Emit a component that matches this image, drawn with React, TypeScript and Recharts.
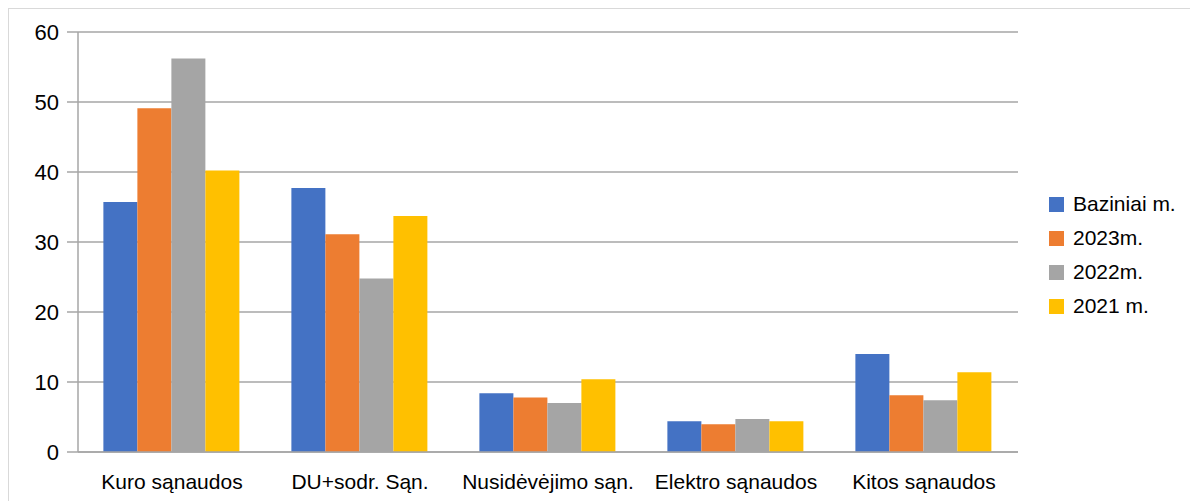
import { BarChart, Bar, XAxis, YAxis, CartesianGrid, Legend } from 'recharts';

const FONT = '"Liberation Sans", Arial, sans-serif';

const categories = ['Kuro sąnaudos', 'DU+sodr. Sąn.', 'Nusidėvėjimo sąn.', 'Elektro sąnaudos', 'Kitos sąnaudos'];
const seriesNames = ['Baziniai m.', '2023m.', '2022m.', '2021 m.'];
const baziniai = [35.7, 37.7, 8.4, 4.4, 14.0];
const m2023 = [49.1, 31.1, 7.8, 3.95, 8.1];
const m2022 = [56.2, 24.8, 7.0, 4.7, 7.4];
const m2021 = [40.2, 33.7, 10.4, 4.4, 11.4];
const yTicks = [0, 10, 20, 30, 40, 50, 60];
const edgeTicks = [0, 1, 2, 3, 4, 5];

const data = categories.map((name, i) => ({
  name,
  baziniai: baziniai[i],
  m2023: m2023[i],
  m2022: m2022[i],
  m2021: m2021[i],
}));

const GRID = '#a6a6a6';

const renderLegend = (props: any) => {
  const payload = [...(props.payload || [])].sort(
    (a: any, b: any) => seriesNames.indexOf(a.value) - seriesNames.indexOf(b.value)
  );
  return (
    <ul style={{ listStyle: 'none', margin: 0, padding: '0 0 0 31px' }}>
      {payload.map((entry: any) => (
        <li key={entry.value}
          style={{ display: 'flex', alignItems: 'center', height: 34, fontSize: 21, fontFamily: FONT, color: '#000', whiteSpace: 'nowrap' }}>
          <span style={{ display: 'inline-block', flexShrink: 0, width: 15, height: 15, background: entry.color, marginRight: 9 }} />
          {entry.value}
        </li>
      ))}
    </ul>
  );
};

function App() {
  return (
    <div style={{ width: 1189, height: 492, border: '1px solid #d9d9d9', background: '#fff' }}>
      <BarChart width={1189} height={492} data={data}
        margin={{ top: 23, right: 30, left: 0, bottom: 0 }}
        barCategoryGap="13.5%" barGap={0}>
        <CartesianGrid vertical={false} stroke={GRID} strokeWidth={1.5} xAxisId="b" />
        <XAxis xAxisId="a" type="number" domain={[0, 5]} ticks={edgeTicks} allowDataOverflow
          height={1} tick={false} tickSize={11}
          axisLine={{ stroke: GRID, strokeWidth: 1.5 }} tickLine={{ stroke: GRID, strokeWidth: 1.5 }} />
        <XAxis xAxisId="b" dataKey="name" interval={0} height={48} tickLine={false} axisLine={false}
          tickMargin={15}
          tick={{ fill: '#000', fontSize: 21, fontFamily: FONT }} />
        <YAxis domain={[0, 60]} ticks={yTicks} width={69} tickSize={11} tickMargin={8}
          tick={{ fill: '#000', fontSize: 22, fontFamily: FONT }}
          axisLine={{ stroke: GRID, strokeWidth: 1.5 }} tickLine={{ stroke: GRID, strokeWidth: 1.5 }} />
        <Legend layout="vertical" align="right" verticalAlign="middle"
          wrapperStyle={{ width: 150 }} content={renderLegend} />
        <Bar xAxisId="b" dataKey="baziniai" name={seriesNames[0]} fill="#4472C4" isAnimationActive={false} />
        <Bar xAxisId="b" dataKey="m2023" name={seriesNames[1]} fill="#ED7D31" isAnimationActive={false} />
        <Bar xAxisId="b" dataKey="m2022" name={seriesNames[2]} fill="#A5A5A5" isAnimationActive={false} />
        <Bar xAxisId="b" dataKey="m2021" name={seriesNames[3]} fill="#FFC000" isAnimationActive={false} />
      </BarChart>
    </div>
  );
}

export default App;
